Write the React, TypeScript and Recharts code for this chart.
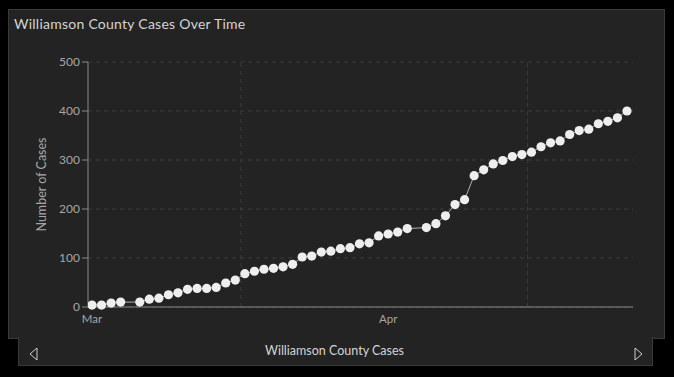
import {
	CartesianGrid,
	Line,
	LineChart,
	ReferenceLine,
	XAxis,
	YAxis,
} from "recharts";

const DATES = [
	"03-01", "03-02", "03-03", "03-04", "03-06", "03-07", "03-08", "03-09", "03-10",
	"03-11", "03-12", "03-13", "03-14", "03-15", "03-16", "03-17", "03-18", "03-19",
	"03-20", "03-21", "03-22", "03-23", "03-24", "03-25", "03-26", "03-27", "03-28",
	"03-29", "03-30", "03-31", "04-01", "04-02", "04-03", "04-05", "04-06", "04-07",
	"04-08", "04-09", "04-10", "04-11", "04-12", "04-13", "04-14", "04-15", "04-16",
	"04-17", "04-18", "04-19", "04-20", "04-21", "04-22", "04-23", "04-24", "04-25",
	"04-26",
];

const CASES = [
	4, 4, 8, 10, 10, 16, 18, 25, 29,
	36, 38, 38, 40, 49, 55, 68, 73, 77,
	79, 82, 87, 102, 104, 112, 114, 119, 121,
	129, 131, 145, 149, 153, 160, 162, 170, 186,
	209, 219, 268, 280, 292, 299, 307, 311, 316,
	327, 335, 339, 352, 360, 363, 374, 379, 386,
	400,
];

// month labels sit on day 0 / day 31, grid lines fall mid-month
const MONTH_TICKS = [0, 31];
const MONTH_LABELS = ["Mar", "Apr"];
const GRID_DAYS = [15.6, 45.6];
const Y_TICKS = [0, 100, 200, 300, 400, 500];

const dayIndex = (md: string) => {
	const [m, d] = md.split("-").map(Number);
	return Math.round((Date.UTC(2020, m - 1, d) - Date.UTC(2020, 2, 1)) / 86400000);
};

const data = DATES.map((d, i) => ({ day: dayIndex(d), cases: CASES[i] }));

const FONT = "Lato, 'Open Sans', sans-serif";
const PANEL = "#232323";
const BORDER = "#3a3a3a";
const GRID = "#3d3d3d";

function Arrow({ dir }: { dir: "left" | "right" }) {
	const pts = dir === "left" ? "8,1 1,7 8,13" : "1,1 8,7 1,13";
	return (
		<svg width={10} height={14}>
			<polygon points={pts} fill="none" stroke="#cfcfcf" strokeWidth={1} />
		</svg>
	);
}

export default function App() {
	return (
		<div
			style={{
				position: "fixed",
				left: 0,
				top: 0,
				width: 674,
				height: 377,
				background: "#000",
				fontFamily: FONT,
				overflow: "hidden",
			}}
		>
			<div
				style={{
					position: "absolute",
					left: 8,
					top: 9,
					width: 655,
					height: 328,
					background: PANEL,
					border: `1px solid ${BORDER}`,
				}}
			/>
			<div
				style={{
					position: "absolute",
					left: 18,
					top: 337,
					width: 633,
					height: 28,
					background: PANEL,
					border: `1px solid ${BORDER}`,
					borderTop: "none",
				}}
			/>
			<div
				style={{
					position: "absolute",
					left: 14,
					top: 15,
					fontSize: 14,
					letterSpacing: 0.25,
					color: "#d4d4d4",
					whiteSpace: "nowrap",
				}}
			>
				Williamson County Cases Over Time
			</div>
			<div style={{ position: "absolute", left: 0, top: 0 }}>
				<LineChart
					width={674}
					height={377}
					data={data}
					margin={{ top: 62, right: 41, bottom: 40, left: 28 }}
				>
					<CartesianGrid vertical={false} stroke={GRID} strokeDasharray="4 4" />
					{GRID_DAYS.map((d) => (
						<ReferenceLine key={d} x={d} stroke={GRID} strokeDasharray="4 4" />
					))}
					<XAxis
						xAxisId="grid"
						type="number"
						dataKey="day"
						domain={[-0.42, 56.63]}
						ticks={GRID_DAYS}
						tick={false}
						tickLine={{ stroke: "#666" }}
						tickSize={5}
						axisLine={false}
						height={0}
						allowDataOverflow
					/>
					<XAxis
						type="number"
						dataKey="day"
						domain={[-0.42, 56.63]}
						ticks={MONTH_TICKS}
						tickFormatter={(v: number) => MONTH_LABELS[MONTH_TICKS.indexOf(v)]}
						tickLine={false}
						axisLine={{ stroke: "#8a8a8a" }}
						tick={{ fill: "#a6a6a6", fontSize: 11.5, fontFamily: FONT }}
						height={30}
						allowDataOverflow
					/>
					<YAxis
						domain={[0, 500]}
						ticks={Y_TICKS}
						width={60}
						tickSize={6}
						tickLine={{ stroke: "#8a8a8a" }}
						axisLine={{ stroke: "#8a8a8a" }}
						tick={{ fill: "#a6a6a6", fontSize: 12, fontFamily: FONT }}
						label={{
							value: "Number of Cases",
							angle: -90,
							position: "insideLeft",
							offset: 14,
							style: {
								textAnchor: "middle",
								fill: "#a6a6a6",
								fontSize: 12.5,
								fontFamily: FONT,
							},
						}}
					/>
					<Line
						type="linear"
						dataKey="cases"
						stroke="#b0b0b0"
						strokeWidth={1}
						dot={{ r: 4.6, fill: "#eeeeee", stroke: "none" }}
						activeDot={false}
						isAnimationActive={false}
					/>
				</LineChart>
			</div>
			<div style={{ position: "absolute", left: 29, top: 345 }}>
				<Arrow dir="left" />
			</div>
			<div style={{ position: "absolute", left: 634, top: 345 }}>
				<Arrow dir="right" />
			</div>
			<div
				style={{
					position: "absolute",
					left: 18,
					width: 633,
					top: 343,
					textAlign: "center",
					fontSize: 12.5,
					color: "#d4d4d4",
				}}
			>
				Williamson County Cases
			</div>
		</div>
	);
}
